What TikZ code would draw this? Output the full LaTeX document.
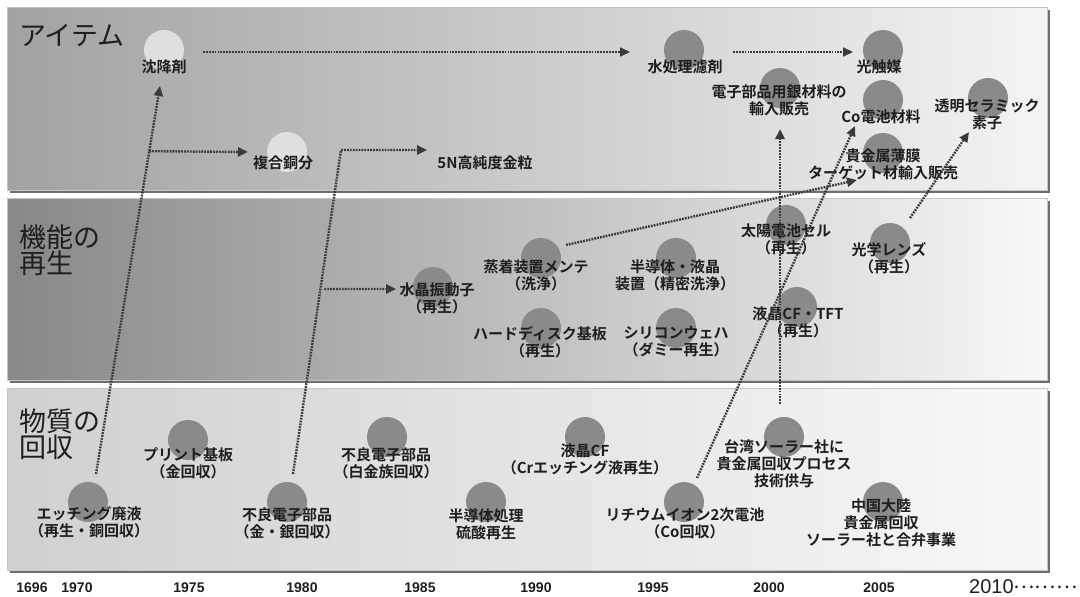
\documentclass[tikz,border=0pt]{standalone}
\usepackage{fontspec}
\setmainfont{Liberation Sans}
\newfontfamily\jp[BoldFont={Noto Sans CJK JP Bold}]{Noto Sans CJK JP}
\usetikzlibrary{arrows.meta,calc}
\definecolor{blobgray}{HTML}{8A8A8A}
\definecolor{palegray}{HTML}{DFDFDF}
\definecolor{flowgray}{HTML}{3A3A3A}
\definecolor{inkgray}{HTML}{1E1E1E}
\definecolor{shadowgray}{HTML}{6E6E6E}
\begin{document}
\begin{tikzpicture}[x=1pt,y=-1pt,
	band/.style={draw=gray!45,line width=0.5pt},
	blob/.style={circle,fill=blobgray,minimum size=40pt,inner sep=0pt},
	paleblob/.style={blob,fill=palegray},
	lbl/.style={font=\jp\bfseries\fontsize{15}{17}\selectfont,align=center,text=inkgray,inner sep=0pt},
	bandtitle/.style={font=\jp\fontsize{27}{26}\selectfont,align=left,text=inkgray,inner sep=0pt,anchor=west},
	yearlbl/.style={font=\bfseries\fontsize{14}{15}\selectfont,text=inkgray,inner sep=0pt},
	flow/.style={draw=flowgray,line width=2.4pt,dash pattern=on 1.8pt off 1.1pt,-{Triangle[length=10pt,width=9pt]}}]
\useasboundingbox (0,0) rectangle (1080,597);
% three bands
\fill[shadowgray] (9.5,9.5) rectangle (1049.5,192.5);
\shadedraw[band,left color={rgb,255:red,162;green,162;blue,162},right color={rgb,255:red,244;green,244;blue,244}] (7,7) rectangle (1047,190);
\fill[shadowgray] (9.5,200.5) rectangle (1049.5,382.5);
\shadedraw[band,left color={rgb,255:red,136;green,136;blue,136},middle color={rgb,255:red,210;green,210;blue,210},right color={rgb,255:red,248;green,248;blue,248}] (7,198) rectangle (1047,380);
\fill[shadowgray] (9.5,390.5) rectangle (1049.5,572.5);
\shadedraw[band,left color={rgb,255:red,208;green,208;blue,208},right color={rgb,255:red,248;green,248;blue,248}] (7,388) rectangle (1047,570);

\node[bandtitle] (t-item) at (19,36) {アイテム};
\node[bandtitle] (t-kino) at (19,250) {機能の\\再生};
\node[bandtitle] (t-busshitsu) at (19,434) {物質の\\回収};

% circles
\node[paleblob] (chinko) at (164,50) {};
\node[paleblob] (fukugo) at (287,152) {};
\node[blob] (mizu) at (684,50) {};
\node[blob] (hikari) at (883,50) {};
\node[blob] (ginzai) at (780,88) {};
\node[blob] (codenchi) at (883,100) {};
\node[blob] (toumei) at (988,98) {};
\node[blob] (hakumaku) at (883,153) {};
\node[blob] (suisho) at (433,287) {};
\node[blob] (jochaku) at (541,258) {};
\node[blob] (handotai) at (676,258) {};
\node[blob] (hdd) at (541,328) {};
\node[blob] (wafer) at (676,328) {};
\node[blob] (taiyo) at (786,225) {};
\node[blob] (lens) at (890,243) {};
\node[blob] (lcdtft) at (797,307) {};
\node[blob] (print) at (188,440) {};
\node[blob] (etching) at (88,502) {};
\node[blob] (furyoAg) at (287,502) {};
\node[blob] (furyoPt) at (387,437) {};
\node[blob] (ryusan) at (486,502) {};
\node[blob] (lcdcf) at (585,437) {};
\node[blob] (lithium) at (684,502) {};
\node[blob] (taiwan) at (784,437) {};
\node[blob] (chugoku) at (883,502) {};

% labels
\node[lbl] (chinko-t) at (164,67) {沈降剤};
\node[lbl] (fukugo-t) at (283,163) {複合銅分};
\node[lbl] (kinryu-t) at (485,163) {5N高純度金粒};
\node[lbl] (mizu-t) at (685,67) {水処理濾剤};
\node[lbl] (hikari-t) at (879,67) {光触媒};
\node[lbl] (ginzai-t) at (779,100) {電子部品用銀材料の\\輸入販売};
\node[lbl] (codenchi-t) at (881,117) {Co電池材料};
\node[lbl] (toumei-t) at (987,114) {透明セラミック\\素子};
\node[lbl] (hakumaku-t) at (883,164) {貴金属薄膜\\ターゲット材輸入販売};
\node[lbl] (suisho-t) at (437,298) {水晶振動子\\（再生）};
\node[lbl] (jochaku-t) at (536,275) {蒸着装置メンテ\\（洗浄）};
\node[lbl] (handotai-t) at (675,275) {半導体・液晶\\装置（精密洗浄）};
\node[lbl] (hdd-t) at (540,342) {ハードディスク基板\\（再生）};
\node[lbl] (wafer-t) at (676,342) {シリコンウェハ\\（ダミー再生）};
\node[lbl] (taiyo-t) at (786,239) {太陽電池セル\\（再生）};
\node[lbl] (lens-t) at (889,258) {光学レンズ\\（再生）};
\node[lbl] (lcdtft-t) at (798,322) {液晶CF・TFT\\（再生）};
\node[lbl] (print-t) at (188,463) {プリント基板\\（金回収）};
\node[lbl] (etching-t) at (89,522) {エッチング廃液\\（再生・銅回収）};
\node[lbl] (furyoAg-t) at (287,523) {不良電子部品\\（金・銀回収）};
\node[lbl] (furyoPt-t) at (386,463) {不良電子部品\\（白金族回収）};
\node[lbl] (ryusan-t) at (486,524) {半導体処理\\硫酸再生};
\node[lbl] (lcdcf-t) at (585,459) {液晶CF\\（Crエッチング液再生）};
\node[lbl] (lithium-t) at (685,523) {リチウムイオン2次電池\\（Co回収）};
\node[lbl] (taiwan-t) at (784,464) {台湾ソーラー社に\\貴金属回収プロセス\\技術供与};
\node[lbl] (chugoku-t) at (881,523) {中国大陸\\貴金属回収\\ソーラー社と合弁事業};

% year axis
\foreach \yr/\xx in {1696/32,1970/77,1975/189,1980/302,1985/420,1990/536,1995/653,2000/769,2005/879}
	\node[yearlbl] (y\yr) at (\xx,588) {\yr};
\node[anchor=west,inner sep=0pt,text=inkgray,font=\fontsize{20}{20}\selectfont] (y2010) at (969,587) {2010\raisebox{5pt}{\jp………}};

% connector ends
\coordinate (etching-out) at (96,474);
\coordinate (chinko-in) at (160,86);
\coordinate (fukugo-in) at (248,152);
\coordinate (chinko-out) at (203,52);
\coordinate (mizu-in) at (630,52);
\coordinate (mizu-out) at (733,52);
\coordinate (hikari-in) at (853,52);
\coordinate (furyoAg-out) at (293,474);
\coordinate (bend) at (341,150);
\coordinate (kinryu-in) at (427,150);
\coordinate (suisho-in) at (396,289);
\coordinate (jochaku-out) at (566,245);
\coordinate (hakumaku-in) at (857,180);
\coordinate (taiwan-out) at (780,404);
\coordinate (ginzai-in) at (780,129);
\coordinate (lithium-out) at (697,478);
\coordinate (codenchi-in) at (855,126);
\coordinate (lens-out) at (910,218);
\coordinate (toumei-in) at (969,132);
\coordinate (br1) at ($(etching-out)!0.832!(chinko-in)$);
\coordinate (br2) at ($(furyoAg-out)!0.571!(bend)$);

% connectors
\draw[flow] (etching-out) -- (chinko-in);
\draw[flow] (br1) -- (fukugo-in);
\draw[flow,line width=2pt] (chinko-out) -- (mizu-in);
\draw[flow,line width=2pt] (mizu-out) -- (hikari-in);
\draw[flow] (furyoAg-out) -- (bend) -- (kinryu-in);
\draw[flow,shorten <=4pt] (br2) -- (suisho-in);
\draw[flow] (jochaku-out) -- (hakumaku-in);
\draw[flow] (taiwan-out) -- (ginzai-in);
\draw[flow] (lithium-out) -- (codenchi-in);
\draw[flow] (lens-out) -- (toumei-in);
\end{tikzpicture}
\end{document}
